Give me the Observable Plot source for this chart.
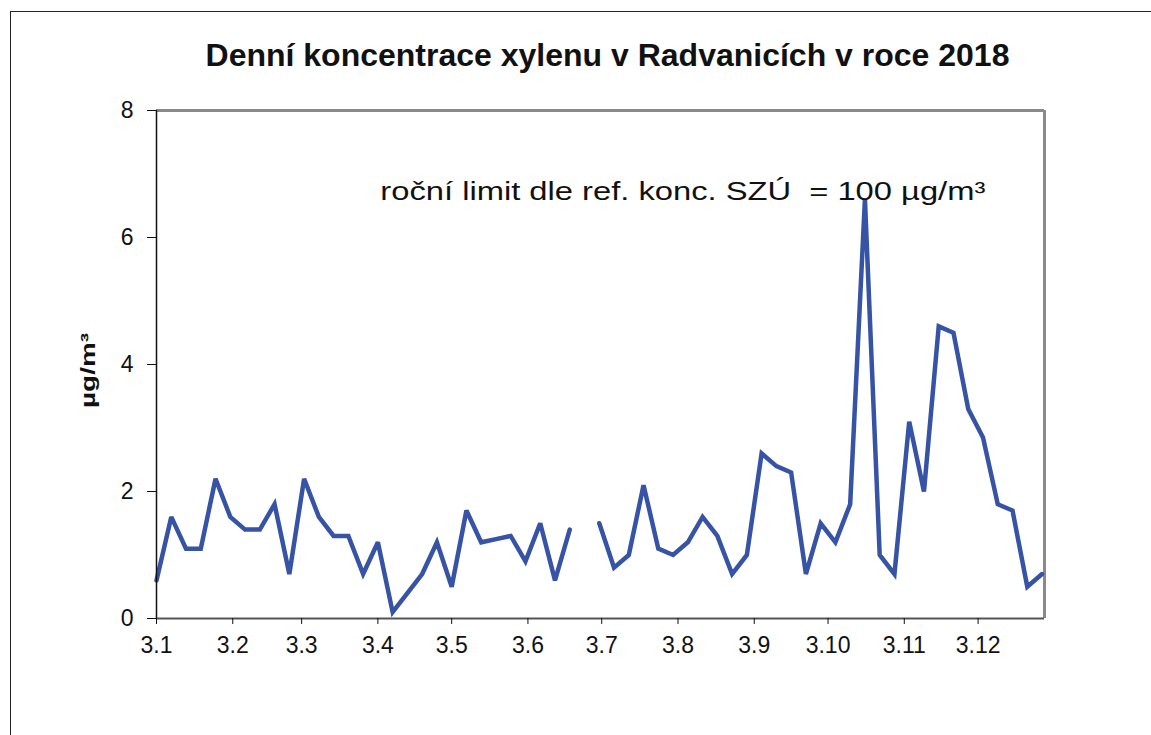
<!DOCTYPE html>
<html>
<head>
<meta charset="utf-8">
<script src="https://cdn.jsdelivr.net/npm/d3@7"></script>
<script src="https://cdn.jsdelivr.net/npm/@observablehq/plot@0.6"></script>
<style>
  html, body { margin: 0; padding: 0; background: #fff; overflow: hidden; }
  #wrap { position: relative; width: 1151px; height: 735px; overflow: hidden; font-family: "Liberation Sans", Arial, sans-serif; }
  #outer { position: absolute; left: 10px; top: 11px; width: 1300px; height: 900px; border-left: 1.5px solid #222; border-top: 1.5px solid #222; }
  #title { position: absolute; left: 0; width: 1215px; top: 39px; line-height: 32px; text-align: center; font-weight: bold; font-size: 32px; color: #111; white-space: nowrap; }
  #chart { position: absolute; left: 0; top: 0; }
</style>
</head>
<body>
<div id="wrap">
  <div id="outer"></div>
  <div id="chart"></div>
  <div id="title"></div>
</div>
<script>
// Sampling: every 6th day starting 3 Jan 2018
const startDate = new Date(Date.UTC(2018, 0, 3));
const endDate = new Date(Date.UTC(2018, 11, 30));
const stepDays = 6;

// Daily xylene concentrations (µg/m³); null = missing sample
const values = [
  0.6, 1.6, 1.1, 1.1, 2.2, 1.6, 1.4, 1.4, 1.8, 0.7,
  2.2, 1.6, 1.3, 1.3, 0.7, 1.2, 0.1, 0.4, 0.7, 1.2,
  0.5, 1.7, 1.2, 1.25, 1.3, 0.9, 1.5, 0.6, 1.4, null,
  1.5, 0.8, 1.0, 2.1, 1.1, 1.0, 1.2, 1.6, 1.3, 0.7,
  1.0, 2.6, 2.4, 2.3, 0.7, 1.5, 1.2, 1.8, 6.6, 1.0,
  0.7, 3.1, 2.0, 4.6, 4.5, 3.3, 2.85, 1.8, 1.7, 0.5,
  0.7
];

// Axis ticks: 3rd day of every month, labelled "day.month"
const xTickMonths = [0,1,2,3,4,5,6,7,8,9,10,11];
const yTicks = [0, 2, 4, 6, 8];

const titleText = "Denní koncentrace xylenu v Radvanicích v roce 2018";
const yLabel = "µg/m³";
const noteText = "roční limit dle ref. konc. SZÚ  = 100 µg/m³";
const noteDate = new Date(Date.UTC(2018, 3, 4));
const noteValue = 6.72;

const data = values.map((v, i) => ({ date: d3.utcDay.offset(startDate, i * stepDays), value: v }));
const xTicks = xTickMonths.map(m => new Date(Date.UTC(2018, m, 3)));
const fmt = d => `${d.getUTCDate()}.${d.getUTCMonth() + 1}`;

const chart = Plot.plot({
  width: 1151,
  height: 735,
  marginLeft: 156,
  marginRight: 107,
  marginTop: 110,
  marginBottom: 117,
  style: { fontFamily: "Liberation Sans, Arial, sans-serif", fontSize: "23px", background: "transparent", overflow: "visible" },
  x: { type: "utc", domain: [startDate, endDate] },
  y: { domain: [0, 8] },
  marks: [
    Plot.ruleY([8], { stroke: "#8a8a8a", strokeWidth: 3 }),
    Plot.ruleX([endDate], { stroke: "#8a8a8a", strokeWidth: 3 }),
    Plot.line(data, { x: "date", y: "value", stroke: "#3653a5", strokeWidth: 4.5, strokeLinejoin: "miter", strokeMiterlimit: 3 }),
    Plot.ruleY([0], { stroke: "#555", strokeWidth: 2 }),
    Plot.ruleX([startDate], { stroke: "#111", strokeWidth: 1.5 }),
    Plot.axisY({ ticks: yTicks, tickSize: 9, tickPadding: 14, fontSize: 23, label: null, stroke: "#111", color: "#111" }),
    Plot.axisX({ ticks: xTicks, tickFormat: fmt, tickSize: 6, tickPadding: 12, fontSize: 23, label: null, stroke: "#111", color: "#111" }),
    Plot.text([noteText], { x: () => noteDate, y: () => noteValue, text: d => d, textAnchor: "start", fontSize: 25, fill: "#111" }),
    Plot.text([yLabel], { frameAnchor: "left", text: d => d, rotate: -90, textAnchor: "middle", dx: -68, dy: 6, fontSize: 21, fontWeight: "bold", fill: "#111" })
  ]
});
// stretch annotation and axis title along their direction, as in the original
chart.querySelectorAll("text").forEach(t => {
  if (t.textContent === noteText) {
    t.setAttribute("textLength", 605);
    t.setAttribute("lengthAdjust", "spacingAndGlyphs");
    t.setAttribute("xml:space", "preserve");
  } else if (t.textContent === yLabel) {
    t.setAttribute("textLength", 75);
    t.setAttribute("lengthAdjust", "spacingAndGlyphs");
  }
});
document.getElementById("chart").appendChild(chart);
document.getElementById("title").textContent = titleText;
</script>
</body>
</html>
